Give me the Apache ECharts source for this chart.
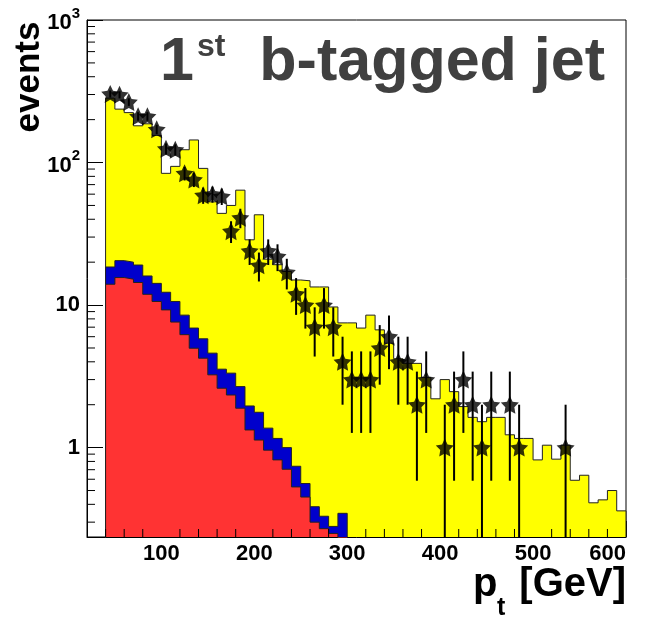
<!DOCTYPE html>
<html>
<head>
<meta charset="utf-8">
<script src="https://cdn.jsdelivr.net/npm/echarts@6/dist/echarts.min.js"></script>
<style>
html,body{margin:0;padding:0;background:#fff;}
#chart{width:647px;height:621px;}
</style>
</head>
<body>
<div id="chart"></div>
<script>
// ---------------- data ----------------
const binLow = 40;      // GeV, lower edge of first bin
const binWidth = 10;    // GeV

// total expectation (yellow stack top), 40..600 GeV
const totalMC = [283, 237, 224, 181, 187, 155, 84, 94, 123, 144,
                 91, 53, 44, 50, 64, 28.7, 43, 21, 19.2, 17.2,
                 15.0, 14.8, 13.4, 13.4, 9.7, 7.5, 7.5, 6.9, 8.5, 6.7,
                 5.4, 4.2, 3.9, 3.9, 3.1, 2.2, 3.0, 2.47, 1.94, 1.63,
                 1.52, 1.63, 1.63, 1.23, 1.16, 1.16, 0.82, 1.04, 0.83, 1.04,
                 0.59, 0.64, 0.41, 0.43, 0.50, 0.36];

// blue stack top (blue + red), 40..300 GeV
const blueStack = [18.5, 20.5, 20.0, 19.1, 16.0, 14.2, 12.3, 10.6, 8.5, 6.9,
                   5.8, 4.6, 3.55, 3.33, 2.68, 1.96, 1.77, 1.37, 1.16, 1.0,
                   0.74, 0.56, 0.385, 0.33, 0.28, 0.346];

// red component, 40..300 GeV
const redStack = [14.0, 15.6, 15.2, 14.4, 11.9, 10.6, 9.25, 7.6, 6.2, 4.98,
                  4.24, 3.24, 2.61, 2.34, 1.89, 1.33, 1.13, 0.96, 0.82, 0.705,
                  0.53, 0.45, 0.30, 0.27, 0.25, 0.2];

// observed counts (stars), 40..600 GeV
const dataCounts = [303, 299, 266, 211, 211, 171, 125, 123, 84, 76,
                    59, 60, 58, 33, 41, 24, 19, 24, 22, 17,
                    12, 10, 7, 10, 7, 4, 3, 3, 3, 5,
                    6, 4, 4, 2, 3, 0, 1, 2, 3, 2,
                    1, 2, 0, 2, 1, 0, 0, 0, 0, 1,
                    0, 0, 0, 0, 0, 0];

const xTickLabels = [100, 200, 300, 400, 500, 600];
const yTickLabels = {0: '1', 1: '10', 2: '{b|10}{s|2}', 3: '{b|10}{s|3}'};

const X_MIN = 20, X_MAX = 600;
const Y_MIN = 0.236, Y_MAX = 1000;
const FLOOR = 0.01;
const FONT = 'Liberation Sans, Arial, Helvetica, sans-serif';

// ---------------- helpers ----------------
function stepData(vals) {
  const pts = [[binLow, FLOOR]];
  vals.forEach((v, i) => pts.push([binLow + i * binWidth, v]));
  const end = binLow + vals.length * binWidth;
  pts.push([end, vals[vals.length - 1]]);
  pts.push([end, FLOOR]);
  return pts;
}
const points = [];
dataCounts.forEach((c, i) => { if (c > 0) points.push([binLow + (i + 0.5) * binWidth, c]); });

const yMinor = [];
[0.1, 1, 10, 100].forEach(d => { for (let m = 2; m <= 9; m++) { const v = m * d; if (v >= Y_MIN && v < Y_MAX) yMinor.push([X_MIN, v]); } });
const xMinor = [];
for (let v = 40; v < X_MAX; v += 20) { if (v % 100 !== 0) xMinor.push([v, Y_MIN]); }

// 5-pointed star (inner/outer ratio 0.5)
function makeStar(ratio) {
  let d = '';
  for (let i = 0; i < 10; i++) {
    const r = (i % 2 === 0) ? 50 : 50 * ratio;
    const a = -Math.PI / 2 + i * Math.PI / 5;
    d += (i === 0 ? 'M' : 'L') + (50 + r * Math.cos(a)).toFixed(2) + ',' + (50 + r * Math.sin(a)).toFixed(2) + ' ';
  }
  return 'path://' + d + 'Z';
}
const starPath = makeStar(0.5);

function histSeries(name, vals, fill, z) {
  return {
    name: name, type: 'line', step: 'end', data: stepData(vals),
    symbol: 'none', showSymbol: false, silent: true, z: z, clip: true,
    lineStyle: {color: '#222', width: 1},
    areaStyle: {color: fill, opacity: 1, origin: 'start'}
  };
}

const chart = echarts.init(document.getElementById('chart'), null, {renderer: 'canvas'});
chart.setOption({
  animation: false,
  backgroundColor: '#fff',
  grid: {left: 87, top: 20, right: 21, bottom: 84, show: true, borderColor: '#000', borderWidth: 1, backgroundColor: 'transparent'},
  xAxis: {
    type: 'value', min: X_MIN, max: X_MAX,
    axisLine: {show: true, lineStyle: {color: '#000', width: 1}},
    axisTick: {show: true, inside: true, length: 16, lineStyle: {color: '#000', width: 1}},
    minorTick: {show: false},
    splitLine: {show: false},
    axisLabel: {
      margin: 6, color: '#000', fontSize: 22, fontWeight: 'bold', fontFamily: FONT,
      alignMaxLabel: 'right',
      formatter: function (v) { return xTickLabels.indexOf(Math.round(v)) >= 0 && Math.abs(v - Math.round(v)) < 1e-6 ? String(Math.round(v)) : ''; }
    }
  },
  yAxis: {
    type: 'log', logBase: 10, min: Y_MIN, max: Y_MAX,
    axisLine: {show: true, lineStyle: {color: '#000', width: 1}},
    axisTick: {show: true, inside: true, length: 16, lineStyle: {color: '#000', width: 1}},
    splitLine: {show: false},
    axisLabel: {
      margin: 7, color: '#000', fontSize: 22, fontWeight: 'bold', fontFamily: FONT,
      formatter: function (v) {
        const e = Math.log10(v); const r = Math.round(e);
        if (Math.abs(e - r) > 1e-6) return '';
        return yTickLabels[r] !== undefined ? yTickLabels[r] : '';
      },
      rich: {
        b: {fontSize: 22, fontWeight: 'bold', fontFamily: FONT, color: '#000', lineHeight: 28, verticalAlign: 'bottom'},
        s: {fontSize: 15, fontWeight: 'bold', fontFamily: FONT, color: '#000', lineHeight: 18, verticalAlign: 'top'}
      }
    }
  },
  series: [
    histSeries('total', totalMC, '#ffff00', 2),
    histSeries('blue', blueStack, '#0000cc', 3),
    histSeries('red', redStack, '#ff3333', 4),
    {
      name: 'errors', type: 'custom', data: points, z: 6, silent: true,
      renderItem: function (params, api) {
        const x = api.value(0), v = api.value(1), e = Math.sqrt(v);
        const lo = Math.max(v - e, Y_MIN), hi = v + e;
        const p1 = api.coord([x, lo]), p2 = api.coord([x, hi]);
        return {type: 'line', shape: {x1: p1[0], y1: p1[1], x2: p2[0], y2: p2[1]}, style: {stroke: '#000', lineWidth: 2}};
      }
    },
    {
      name: 'data', type: 'scatter', data: points, z: 7, silent: true,
      symbol: starPath, symbolSize: 18, itemStyle: {color: '#000'}
    },
    {
      name: 'yminor', type: 'custom', data: yMinor, z: 8, silent: true,
      renderItem: function (params, api) {
        const p = api.coord([api.value(0), api.value(1)]);
        return {type: 'line', shape: {x1: p[0], y1: p[1], x2: p[0] + 8, y2: p[1]}, style: {stroke: '#000', lineWidth: 1}};
      }
    },
    {
      name: 'xminor', type: 'custom', data: xMinor, z: 8, silent: true,
      renderItem: function (params, api) {
        const p = api.coord([api.value(0), api.value(1)]);
        return {type: 'line', shape: {x1: p[0], y1: p[1], x2: p[0], y2: p[1] - 8}, style: {stroke: '#000', lineWidth: 1}};
      }
    }
  ],
  graphic: [
    {type: 'text', id: 't1', x: 160, y: 63, silent: true, z: 10,
     style: {text: '1', fill: '#404040', font: 'bold 61px ' + FONT, textAlign: 'left', textVerticalAlign: 'middle'}},
    {type: 'text', id: 't2', x: 197, y: 47, silent: true, z: 10,
     style: {text: 'st', fill: '#404040', font: 'bold 32px ' + FONT, textAlign: 'left', textVerticalAlign: 'middle'}},
    {type: 'text', id: 't3', x: 605, y: 63, silent: true, z: 10,
     style: {text: 'b-tagged jet', fill: '#404040', font: 'bold 61px ' + FONT, textAlign: 'right', textVerticalAlign: 'middle'}},
    {type: 'text', id: 'ev', x: 29, y: 77, rotation: Math.PI / 2, silent: true, z: 10,
     style: {text: 'events', fill: '#000', font: 'bold 35px ' + FONT, textAlign: 'center', textVerticalAlign: 'middle'}},
    {type: 'text', id: 'xp', x: 473, y: 585, silent: true, z: 10,
     style: {text: 'p', fill: '#000', font: 'bold 40px ' + FONT, textAlign: 'left', textVerticalAlign: 'middle'}},
    {type: 'text', id: 'xt', x: 497, y: 608, silent: true, z: 10,
     style: {text: 't', fill: '#000', font: 'bold 25px ' + FONT, textAlign: 'left', textVerticalAlign: 'middle'}},
    {type: 'text', id: 'xg', x: 626, y: 585, silent: true, z: 10,
     style: {text: '[GeV]', fill: '#000', font: 'bold 40px ' + FONT, textAlign: 'right', textVerticalAlign: 'middle'}}
  ]
});
</script>
</body>
</html>
